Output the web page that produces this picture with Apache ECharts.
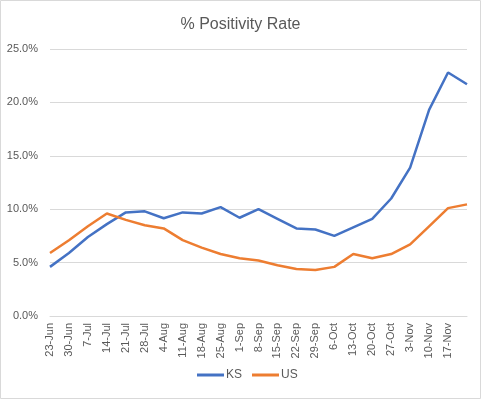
<!DOCTYPE html>
<html>
<head>
<meta charset="utf-8">
<script src="https://cdn.jsdelivr.net/npm/echarts@6/dist/echarts.min.js"></script>
<style>
  html, body { margin: 0; padding: 0; background: #fff; }
  #main { width: 481px; height: 399px; }
</style>
</head>
<body>
<div id="main"></div>
<script>
var weeks = ['23-Jun', '30-Jun', '7-Jul', '14-Jul', '21-Jul', '28-Jul', '4-Aug', '11-Aug',
  '18-Aug', '25-Aug', '1-Sep', '8-Sep', '15-Sep', '22-Sep', '29-Sep', '6-Oct', '13-Oct',
  '20-Oct', '27-Oct', '3-Nov', '10-Nov', '17-Nov', '24-Nov'];
var ks = [4.6, 5.9, 7.4, 8.6, 9.7, 9.8, 9.15, 9.7, 9.6, 10.2, 9.2, 10.0, 9.1, 8.2, 8.1, 7.5,
  8.3, 9.1, 11.0, 13.9, 19.3, 22.8, 21.7];
var us = [5.9, 7.1, 8.4, 9.6, 9.0, 8.5, 8.2, 7.1, 6.4, 5.8, 5.4, 5.2, 4.75, 4.4, 4.3, 4.6,
  5.8, 5.4, 5.8, 6.7, 8.4, 10.1, 10.45];

var chartDom = document.getElementById('main');
var myChart = echarts.init(chartDom);
var font = '"Liberation Sans", Arial, sans-serif';
var grey = '#595959';

var option = {
  animation: false,
  textStyle: { fontFamily: font },
  title: {
    text: '% Positivity Rate',
    left: 'center',
    top: 12,
    textStyle: { fontSize: 16, fontWeight: 'normal', color: grey, fontFamily: font }
  },
  graphic: [{
    type: 'rect',
    shape: { x: 0.5, y: 0.5, width: 480, height: 398 },
    style: { fill: 'none', stroke: '#d9d9d9', lineWidth: 1 },
    silent: true
  }],
  legend: {
    bottom: 13,
    left: 192,
    icon: 'rect',
    itemWidth: 27,
    itemHeight: 3,
    itemGap: 10,
    textStyle: { fontSize: 12, color: grey, fontFamily: font, padding: [0, 0, 0, -3] },
    data: ['KS', 'US']
  },
  grid: { left: 50, right: 14, top: 49, bottom: 83 },
  xAxis: {
    type: 'category',
    boundaryGap: false,
    data: weeks,
    axisLine: { lineStyle: { color: '#d9d9d9' } },
    axisTick: { show: false },
    axisLabel: {
      rotate: 90,
      margin: 7,
      fontSize: 11,
      color: grey,
      fontFamily: font,
      interval: function (i) { return i < weeks.length - 1; }
    }
  },
  yAxis: {
    type: 'value',
    min: 0,
    max: 25,
    interval: 5,
    axisLine: { show: false },
    axisTick: { show: false },
    splitLine: { lineStyle: { color: '#d9d9d9' } },
    axisLabel: {
      margin: 12,
      fontSize: 11,
      color: grey,
      fontFamily: font,
      formatter: function (v) { return v.toFixed(1) + '%'; }
    }
  },
  series: [
    {
      name: 'KS',
      type: 'line',
      data: ks,
      showSymbol: false,
      lineStyle: { width: 2.5, color: '#4472C4' },
      itemStyle: { color: '#4472C4' }
    },
    {
      name: 'US',
      type: 'line',
      data: us,
      showSymbol: false,
      lineStyle: { width: 2.5, color: '#ED7D31' },
      itemStyle: { color: '#ED7D31' }
    }
  ]
};

option && myChart.setOption(option);
</script>
</body>
</html>
